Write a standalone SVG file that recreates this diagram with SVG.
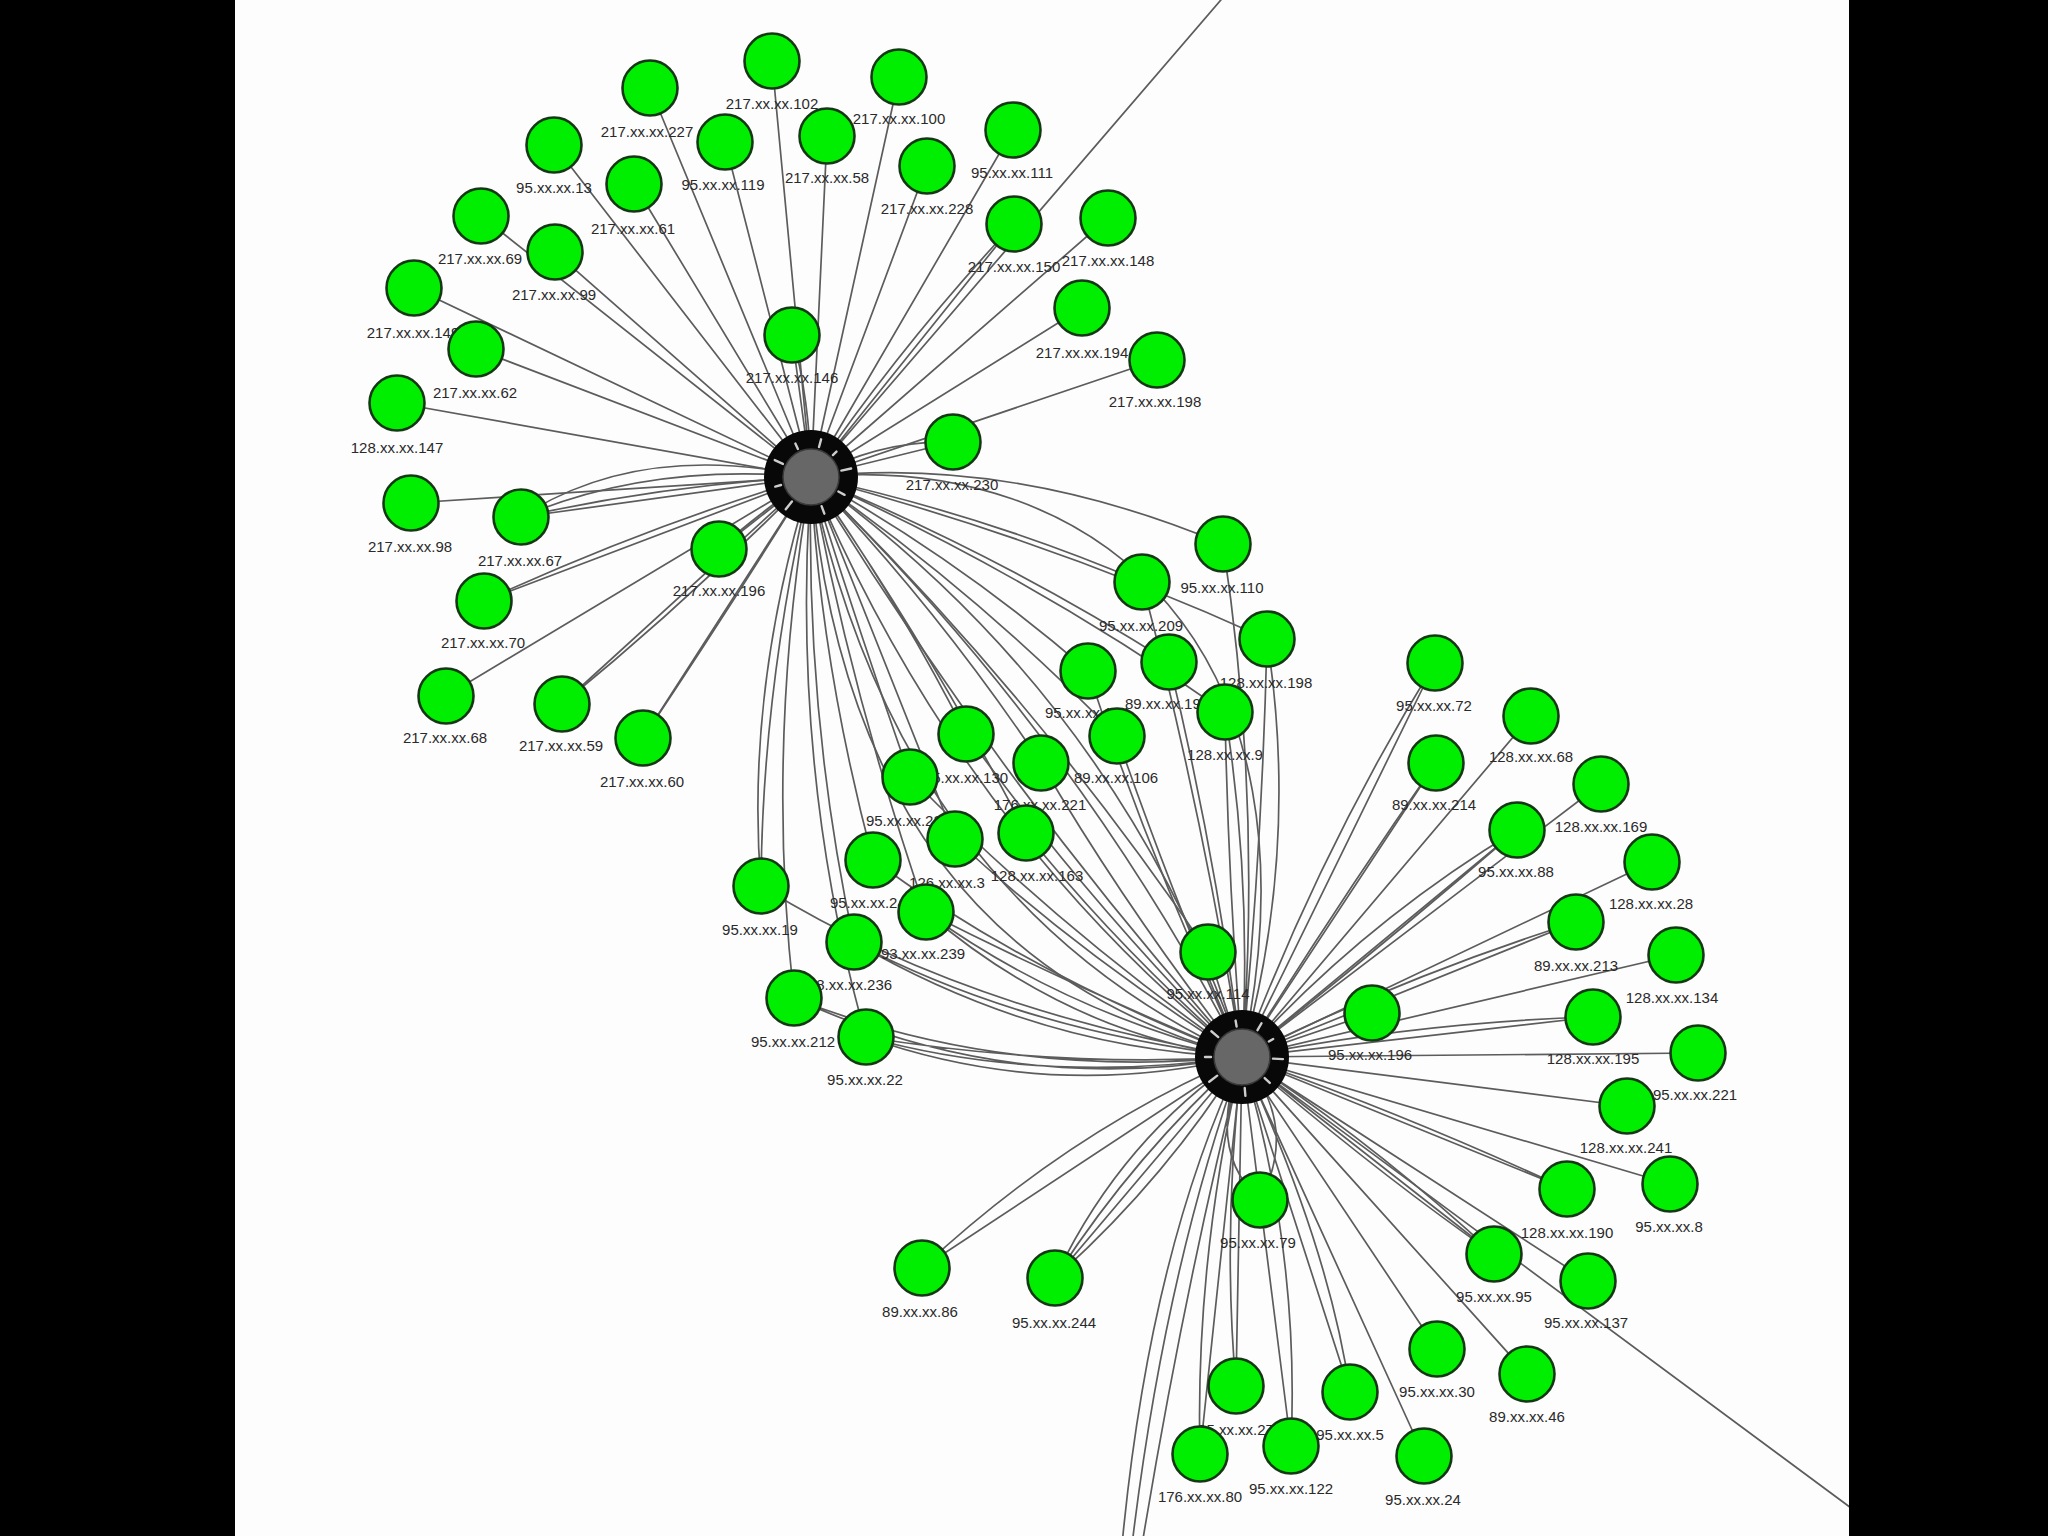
<svg xmlns="http://www.w3.org/2000/svg" xmlns:xlink="http://www.w3.org/1999/xlink" width="2048" height="1536" viewBox="0 0 2048 1536">
<style>
.e{fill:none;stroke:#5c5c5c;stroke-width:1.7}
.nd{fill:#00ee00;stroke:#143814;stroke-width:2.6}
.lb{font-family:"Liberation Sans",Arial,sans-serif;font-size:15px;fill:#2a2a2a;text-anchor:middle}
.hb{fill:#080808}
.hc{fill:#676767;stroke:#3a3a3a;stroke-width:1.5}
.tk{stroke:#f0f0f0;stroke-width:2.4;stroke-linecap:round;opacity:0.85}
</style>
<defs>
<g id="ticks">
<line class="tk" x1="31" y1="0" x2="41" y2="0" transform="rotate(-12)"/>
<line class="tk" x1="31" y1="0" x2="38" y2="0" transform="rotate(28)"/>
<line class="tk" x1="31" y1="0" x2="39" y2="0" transform="rotate(70)"/>
<line class="tk" x1="31" y1="0" x2="41" y2="0" transform="rotate(128)"/>
<line class="tk" x1="31" y1="0" x2="37" y2="0" transform="rotate(165)"/>
<line class="tk" x1="31" y1="0" x2="40" y2="0" transform="rotate(205)"/>
<line class="tk" x1="31" y1="0" x2="37" y2="0" transform="rotate(245)"/>
<line class="tk" x1="31" y1="0" x2="39" y2="0" transform="rotate(285)"/>
<line class="tk" x1="31" y1="0" x2="36" y2="0" transform="rotate(315)"/>
</g>
</defs>
<rect x="0" y="0" width="2048" height="1536" fill="#fdfdfd"/>
<g id="connectors">
<path class="e" d="M811 477L650 88M811 477L772 61M811 477L899 77M811 477L554 145M811 477L725 142M811 477L827 136M811 477L1013 130M811 477L927 166M811 477L634 184M811 477L481 216M811 477L555 252M811 477L1014 224M811 477L1108 218M811 477L414 288M811 477L476 349M811 477L792 335M811 477L1082 308M811 477L1157 360M811 477L397 403M811 477L953 442M811 477L411 503M811 477L521 517M811 477L719 549M811 477L484 601M811 477L446 696M811 477L562 704M811 477L643 738M811 477L1226 -6"/>
<path class="e" d="M811 477Q640 440 521 517M811 477Q650 462 521 517M811 477Q665 485 521 517M811 477Q650 525 484 601M811 477Q690 600 562 704M811 477Q735 600 643 738M811 477Q770 505 719 549M811 477Q750 520 719 549M811 477Q810 400 792 335M811 477Q905 340 1014 224M811 477Q880 440 953 442"/>
<path class="e" d="M811 477Q1010 455 1223 544M811 477Q985 515 1142 582M811 477Q1050 540 1267 639M811 477Q1000 555 1169 662M811 477Q960 560 1088 671M811 477Q1030 575 1225 712M811 477Q975 590 1117 736M811 477Q895 595 966 734M811 477Q935 605 1041 763M811 477Q855 620 910 777M811 477Q880 650 955 839M811 477Q925 640 1026 833M811 477Q820 660 873 860M811 477Q745 690 761 886M811 477Q762 690 761 886M811 477Q850 690 926 912M811 477Q805 715 854 942M811 477Q765 740 794 998M811 477Q790 770 866 1037M811 477Q1030 690 1208 952"/>
<path class="e" d="M1223 544Q1262 800 1242 1057M1142 582Q1200 800 1242 1057M1267 639Q1300 850 1242 1057M1267 639Q1262 850 1242 1057M1169 662Q1215 850 1242 1057M1088 671Q1150 860 1242 1057M1225 712Q1252 880 1242 1057M1225 712Q1228 880 1242 1057M1117 736Q1170 890 1242 1057M966 734Q1090 905 1242 1057M1041 763Q1130 915 1242 1057M910 777Q1060 930 1242 1057M955 839Q1080 955 1242 1057M1026 833Q1120 950 1242 1057M873 860Q1030 975 1242 1057M761 886Q960 1010 1242 1057M926 912Q1060 1010 1242 1057M926 912Q1080 990 1242 1057M926 912Q1070 1035 1242 1057M854 942Q1020 1030 1242 1057M854 942Q1040 1050 1242 1057M794 998Q1000 1080 1242 1057M794 998Q1010 1098 1242 1057M866 1037Q1040 1085 1242 1057M866 1037Q1050 1102 1242 1057M866 1037Q1060 1068 1242 1057M1208 952L1242 1057"/>
<path class="e" d="M811 477Q1010 800 1242 1057M811 477Q1080 740 1242 1057M811 477Q960 830 1242 1057M811 477Q1120 700 1242 1057M811 477Q900 900 1242 1057M811 477C1100 450 1330 650 1242 1057M811 477Q850 950 1242 1057"/>
<path class="e" d="M1242 1057L1435 663M1242 1057L1436 763M1242 1057L1531 716M1242 1057L1517 830M1242 1057L1601 784M1242 1057L1652 862M1242 1057L1576 922M1242 1057L1676 955M1242 1057L1372 1013M1242 1057L1593 1017M1242 1057L1698 1053M1242 1057L1627 1106M1242 1057L1567 1189M1242 1057L1670 1184M1242 1057L1494 1254M1242 1057L1588 1281M1242 1057L1527 1374M1242 1057L1437 1349M1242 1057L1424 1456M1242 1057L1350 1392M1242 1057L1291 1446M1242 1057L1236 1386M1242 1057L1200 1454M1242 1057L1260 1200M1242 1057L1055 1278M1242 1057L922 1268M1242 1057L1870 1522"/>
<path class="e" d="M1242 1057Q1120 1140 1055 1278M1242 1057Q1132 1158 1055 1278M1242 1057Q1165 1180 1055 1278M1242 1057Q1070 1130 922 1268M1242 1057Q1370 1140 1494 1254M1242 1057Q1380 1175 1494 1254M1242 1057Q1360 925 1517 830M1242 1057Q1378 950 1517 830M1242 1057Q1400 978 1576 922M1242 1057Q1420 1022 1593 1017M1242 1057Q1400 1112 1567 1189M1242 1057Q1205 1150 1260 1200M1242 1057Q1300 1125 1260 1200M1242 1057Q1195 1260 1200 1454M1242 1057Q1222 1230 1236 1386M1242 1057Q1150 1250 1122 1545M1242 1057Q1165 1270 1132 1545M1242 1057Q1185 1285 1142 1545M1242 1057Q1320 850 1435 663M1242 1057Q1340 900 1436 763M1242 1057Q1300 1250 1291 1446M1242 1057Q1330 1250 1350 1392"/>
</g>
<g id="hub1"><circle class="hb" cx="811" cy="477" r="47"/><circle class="hc" cx="811" cy="477" r="28"/><use xlink:href="#ticks" transform="translate(811 477)"/></g>
<g id="hub2"><circle class="hb" cx="1242" cy="1057" r="47"/><circle class="hc" cx="1242" cy="1057" r="28"/><use xlink:href="#ticks" transform="translate(1242 1057) rotate(15)"/></g>
<g id="n102"><circle class="nd" cx="772" cy="61" r="27.5"/><text class="lb" x="772" y="109">217.xx.xx.102</text></g>
<g id="n100"><circle class="nd" cx="899" cy="77" r="27.5"/><text class="lb" x="899" y="124">217.xx.xx.100</text></g>
<g id="n227"><circle class="nd" cx="650" cy="88" r="27.5"/><text class="lb" x="647" y="137">217.xx.xx.227</text></g>
<g id="n111"><circle class="nd" cx="1013" cy="130" r="27.5"/><text class="lb" x="1012" y="178">95.xx.xx.111</text></g>
<g id="n58"><circle class="nd" cx="827" cy="136" r="27.5"/><text class="lb" x="827" y="183">217.xx.xx.58</text></g>
<g id="n119"><circle class="nd" cx="725" cy="142" r="27.5"/><text class="lb" x="723" y="190">95.xx.xx.119</text></g>
<g id="n13"><circle class="nd" cx="554" cy="145" r="27.5"/><text class="lb" x="554" y="193">95.xx.xx.13</text></g>
<g id="n228"><circle class="nd" cx="927" cy="166" r="27.5"/><text class="lb" x="927" y="214">217.xx.xx.228</text></g>
<g id="n61"><circle class="nd" cx="634" cy="184" r="27.5"/><text class="lb" x="633" y="234">217.xx.xx.61</text></g>
<g id="n69"><circle class="nd" cx="481" cy="216" r="27.5"/><text class="lb" x="480" y="264">217.xx.xx.69</text></g>
<g id="n148"><circle class="nd" cx="1108" cy="218" r="27.5"/><text class="lb" x="1108" y="266">217.xx.xx.148</text></g>
<g id="n150"><circle class="nd" cx="1014" cy="224" r="27.5"/><text class="lb" x="1014" y="272">217.xx.xx.150</text></g>
<g id="n99"><circle class="nd" cx="555" cy="252" r="27.5"/><text class="lb" x="554" y="300">217.xx.xx.99</text></g>
<g id="n149"><circle class="nd" cx="414" cy="288" r="27.5"/><text class="lb" x="413" y="338">217.xx.xx.149</text></g>
<g id="n194"><circle class="nd" cx="1082" cy="308" r="27.5"/><text class="lb" x="1082" y="358">217.xx.xx.194</text></g>
<g id="n146"><circle class="nd" cx="792" cy="335" r="27.5"/><text class="lb" x="792" y="383">217.xx.xx.146</text></g>
<g id="n62"><circle class="nd" cx="476" cy="349" r="27.5"/><text class="lb" x="475" y="398">217.xx.xx.62</text></g>
<g id="n198"><circle class="nd" cx="1157" cy="360" r="27.5"/><text class="lb" x="1155" y="407">217.xx.xx.198</text></g>
<g id="n147"><circle class="nd" cx="397" cy="403" r="27.5"/><text class="lb" x="397" y="453">128.xx.xx.147</text></g>
<g id="n230"><circle class="nd" cx="953" cy="442" r="27.5"/><text class="lb" x="952" y="490">217.xx.xx.230</text></g>
<g id="n98"><circle class="nd" cx="411" cy="503" r="27.5"/><text class="lb" x="410" y="552">217.xx.xx.98</text></g>
<g id="n67"><circle class="nd" cx="521" cy="517" r="27.5"/><text class="lb" x="520" y="566">217.xx.xx.67</text></g>
<g id="n110"><circle class="nd" cx="1223" cy="544" r="27.5"/><text class="lb" x="1222" y="593">95.xx.xx.110</text></g>
<g id="n196a"><circle class="nd" cx="719" cy="549" r="27.5"/><text class="lb" x="719" y="596">217.xx.xx.196</text></g>
<g id="n209"><circle class="nd" cx="1142" cy="582" r="27.5"/><text class="lb" x="1141" y="631">95.xx.xx.209</text></g>
<g id="n70"><circle class="nd" cx="484" cy="601" r="27.5"/><text class="lb" x="483" y="648">217.xx.xx.70</text></g>
<g id="n198b"><circle class="nd" cx="1267" cy="639" r="27.5"/><text class="lb" x="1266" y="688">128.xx.xx.198</text></g>
<g id="n193"><circle class="nd" cx="1169" cy="662" r="27.5"/><text class="lb" x="1167" y="709">89.xx.xx.193</text></g>
<g id="n72"><circle class="nd" cx="1435" cy="663" r="27.5"/><text class="lb" x="1434" y="711">95.xx.xx.72</text></g>
<g id="n174"><circle class="nd" cx="1088" cy="671" r="27.5"/><text class="lb" x="1087" y="718">95.xx.xx.174</text></g>
<g id="n68"><circle class="nd" cx="446" cy="696" r="27.5"/><text class="lb" x="445" y="743">217.xx.xx.68</text></g>
<g id="n59"><circle class="nd" cx="562" cy="704" r="27.5"/><text class="lb" x="561" y="751">217.xx.xx.59</text></g>
<g id="n9"><circle class="nd" cx="1225" cy="712" r="27.5"/><text class="lb" x="1225" y="760">128.xx.xx.9</text></g>
<g id="n68b"><circle class="nd" cx="1531" cy="716" r="27.5"/><text class="lb" x="1531" y="762">128.xx.xx.68</text></g>
<g id="n130"><circle class="nd" cx="966" cy="734" r="27.5"/><text class="lb" x="966" y="783">95.xx.xx.130</text></g>
<g id="n106"><circle class="nd" cx="1117" cy="736" r="27.5"/><text class="lb" x="1116" y="783">89.xx.xx.106</text></g>
<g id="n60"><circle class="nd" cx="643" cy="738" r="27.5"/><text class="lb" x="642" y="787">217.xx.xx.60</text></g>
<g id="n221"><circle class="nd" cx="1041" cy="763" r="27.5"/><text class="lb" x="1040" y="810">176.xx.xx.221</text></g>
<g id="n214"><circle class="nd" cx="1436" cy="763" r="27.5"/><text class="lb" x="1434" y="810">89.xx.xx.214</text></g>
<g id="n224"><circle class="nd" cx="910" cy="777" r="27.5"/><text class="lb" x="908" y="826">95.xx.xx.224</text></g>
<g id="n169"><circle class="nd" cx="1601" cy="784" r="27.5"/><text class="lb" x="1601" y="832">128.xx.xx.169</text></g>
<g id="n88"><circle class="nd" cx="1517" cy="830" r="27.5"/><text class="lb" x="1516" y="877">95.xx.xx.88</text></g>
<g id="n163"><circle class="nd" cx="1026" cy="833" r="27.5"/><text class="lb" x="1037" y="881">128.xx.xx.163</text></g>
<g id="n3"><circle class="nd" cx="955" cy="839" r="27.5"/><text class="lb" x="947" y="888">126.xx.xx.3</text></g>
<g id="n245"><circle class="nd" cx="873" cy="860" r="27.5"/><text class="lb" x="872" y="908">95.xx.xx.245</text></g>
<g id="n28"><circle class="nd" cx="1652" cy="862" r="27.5"/><text class="lb" x="1651" y="909">128.xx.xx.28</text></g>
<g id="n19"><circle class="nd" cx="761" cy="886" r="27.5"/><text class="lb" x="760" y="935">95.xx.xx.19</text></g>
<g id="n239"><circle class="nd" cx="926" cy="912" r="27.5"/><text class="lb" x="923" y="959">93.xx.xx.239</text></g>
<g id="n213"><circle class="nd" cx="1576" cy="922" r="27.5"/><text class="lb" x="1576" y="971">89.xx.xx.213</text></g>
<g id="n236"><circle class="nd" cx="854" cy="942" r="27.5"/><text class="lb" x="850" y="990">78.xx.xx.236</text></g>
<g id="n114"><circle class="nd" cx="1208" cy="952" r="27.5"/><text class="lb" x="1208" y="999">95.xx.xx.114</text></g>
<g id="n134"><circle class="nd" cx="1676" cy="955" r="27.5"/><text class="lb" x="1672" y="1003">128.xx.xx.134</text></g>
<g id="n212"><circle class="nd" cx="794" cy="998" r="27.5"/><text class="lb" x="793" y="1047">95.xx.xx.212</text></g>
<g id="n196b"><circle class="nd" cx="1372" cy="1013" r="27.5"/><text class="lb" x="1370" y="1060">95.xx.xx.196</text></g>
<g id="n195"><circle class="nd" cx="1593" cy="1017" r="27.5"/><text class="lb" x="1593" y="1064">128.xx.xx.195</text></g>
<g id="n22"><circle class="nd" cx="866" cy="1037" r="27.5"/><text class="lb" x="865" y="1085">95.xx.xx.22</text></g>
<g id="n221b"><circle class="nd" cx="1698" cy="1053" r="27.5"/><text class="lb" x="1695" y="1100">95.xx.xx.221</text></g>
<g id="n241"><circle class="nd" cx="1627" cy="1106" r="27.5"/><text class="lb" x="1626" y="1153">128.xx.xx.241</text></g>
<g id="n8"><circle class="nd" cx="1670" cy="1184" r="27.5"/><text class="lb" x="1669" y="1232">95.xx.xx.8</text></g>
<g id="n190"><circle class="nd" cx="1567" cy="1189" r="27.5"/><text class="lb" x="1567" y="1238">128.xx.xx.190</text></g>
<g id="n79"><circle class="nd" cx="1260" cy="1200" r="27.5"/><text class="lb" x="1258" y="1248">95.xx.xx.79</text></g>
<g id="n95"><circle class="nd" cx="1494" cy="1254" r="27.5"/><text class="lb" x="1494" y="1302">95.xx.xx.95</text></g>
<g id="n86"><circle class="nd" cx="922" cy="1268" r="27.5"/><text class="lb" x="920" y="1317">89.xx.xx.86</text></g>
<g id="n244"><circle class="nd" cx="1055" cy="1278" r="27.5"/><text class="lb" x="1054" y="1328">95.xx.xx.244</text></g>
<g id="n137"><circle class="nd" cx="1588" cy="1281" r="27.5"/><text class="lb" x="1586" y="1328">95.xx.xx.137</text></g>
<g id="n30"><circle class="nd" cx="1437" cy="1349" r="27.5"/><text class="lb" x="1437" y="1397">95.xx.xx.30</text></g>
<g id="n46"><circle class="nd" cx="1527" cy="1374" r="27.5"/><text class="lb" x="1527" y="1422">89.xx.xx.46</text></g>
<g id="n27"><circle class="nd" cx="1236" cy="1386" r="27.5"/><text class="lb" x="1236" y="1435">95.xx.xx.27</text></g>
<g id="n5"><circle class="nd" cx="1350" cy="1392" r="27.5"/><text class="lb" x="1350" y="1440">95.xx.xx.5</text></g>
<g id="n122"><circle class="nd" cx="1291" cy="1446" r="27.5"/><text class="lb" x="1291" y="1494">95.xx.xx.122</text></g>
<g id="n80"><circle class="nd" cx="1200" cy="1454" r="27.5"/><text class="lb" x="1200" y="1502">176.xx.xx.80</text></g>
<g id="n24"><circle class="nd" cx="1424" cy="1456" r="27.5"/><text class="lb" x="1423" y="1505">95.xx.xx.24</text></g>
<rect x="0" y="0" width="235" height="1536" fill="#000"/>
<rect x="1849" y="0" width="199" height="1536" fill="#000"/>
</svg>
